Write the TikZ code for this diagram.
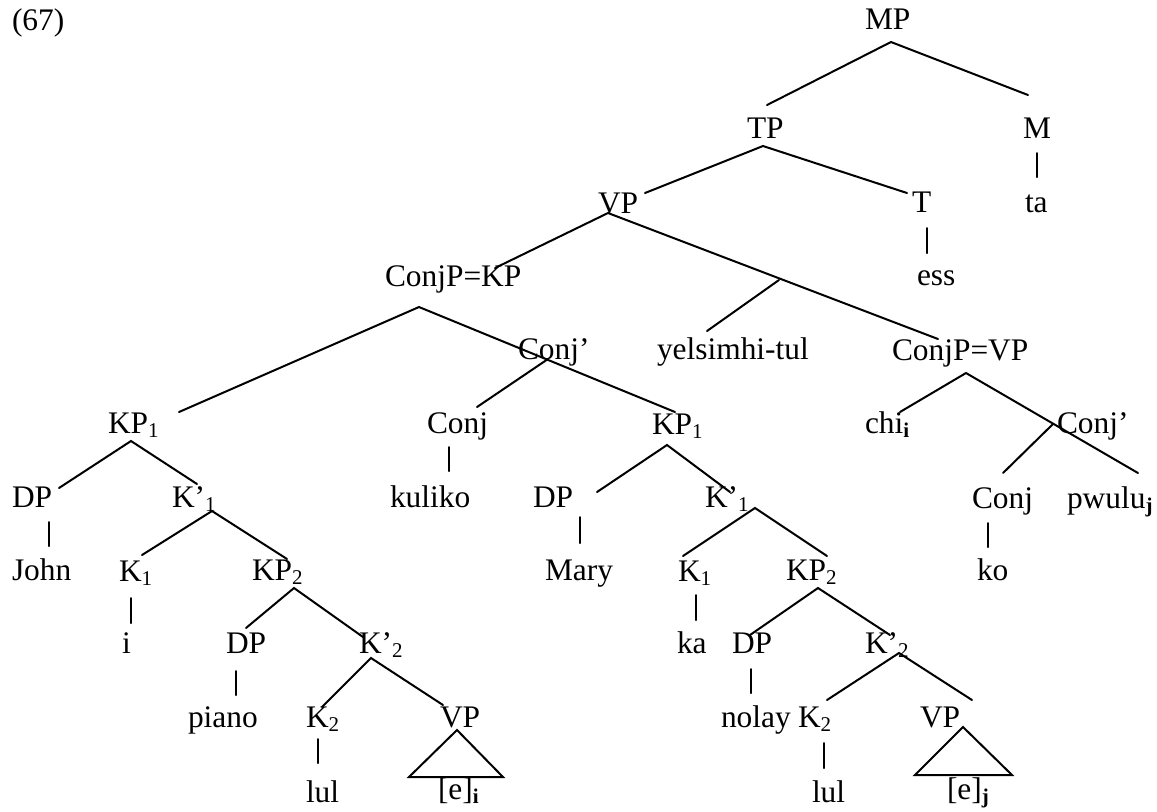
\documentclass[tikz,border=0pt]{standalone}
\usepackage{fontspec}
\setmainfont{Liberation Serif}
\newcommand\lsub[1]{\raisebox{-2pt}{\fontsize{10.5}{12}\selectfont #1}}
\newcommand\bsub[1]{\raisebox{-2pt}{\fontsize{10.5}{12}\selectfont\bfseries #1}}
\tikzset{
  lbl/.style={anchor=base west, inner sep=0pt, outer sep=0pt, font=\fontsize{15.7}{18}\selectfont},
  br/.style={line width=1pt, line cap=round, line join=miter}
}
\begin{document}
\begin{tikzpicture}[x=0.5pt,y=-0.5pt]
\useasboundingbox (0,0) rectangle (1157,811);
% ---------- labels ----------
\node[lbl] (n67) at (12,30) {(67)};
\node[lbl] (MP) at (865,29) {MP};
\node[lbl] (TP) at (747,138) {TP};
\node[lbl] (M) at (1023,138) {M};
\node[lbl] (ta) at (1025,212) {ta};
\node[lbl] (T) at (912,212) {T};
\node[lbl] (ess) at (917,285) {ess};
\node[lbl] (VP) at (598,213) {VP};
\node[lbl] (CKP) at (385,286) {ConjP=KP};
\node[lbl] (Cbar) at (518,359) {Conj’};
\node[lbl] (yel) at (657,359) {yelsimhi-tul};
\node[lbl] (CVP) at (892,360) {ConjP=VP};
\node[lbl] (chi) at (865,433) {chi\bsub{i}};
\node[lbl] (Cbarb) at (1057,433) {Conj’};
\node[lbl] (Conjb) at (972,508) {Conj};
\node[lbl] (pwulu) at (1067,508) {pwulu\bsub{j}};
\node[lbl] (ko) at (977,580) {ko};
\node[lbl] (KPa) at (108,433) {KP\lsub{1}};
\node[lbl] (Conja) at (427,433) {Conj};
\node[lbl] (kuliko) at (390,507) {kuliko};
\node[lbl] (KPb) at (652,434) {KP\lsub{1}};
\node[lbl] (DPa) at (12,507) {DP};
\node[lbl] (Kba) at (172,507) {K’\lsub{1}};
\node[lbl] (John) at (12,580) {John};
\node[lbl] (Ka) at (119,581) {K\lsub{1}};
\node[lbl] (KPta) at (252,580) {KP\lsub{2}};
\node[lbl] (ia) at (122,653) {i};
\node[lbl] (DPta) at (226,653) {DP};
\node[lbl] (Kbta) at (359,653) {K’\lsub{2}};
\node[lbl] (piano) at (188,727) {piano};
\node[lbl] (Kta) at (306,727) {K\lsub{2}};
\node[lbl] (VPa) at (440,727) {VP};
\node[lbl] (lula) at (306,802) {lul};
\node[lbl] (ea) at (438,799) {[e]\bsub{i}};
\node[lbl] (DPb) at (533,507) {DP};
\node[lbl] (Kbb) at (705,507) {K’\lsub{1}};
\node[lbl] (Mary) at (545,580) {Mary};
\node[lbl] (Kb) at (678,581) {K\lsub{1}};
\node[lbl] (KPtb) at (786,580) {KP\lsub{2}};
\node[lbl] (ka) at (677,653) {ka};
\node[lbl] (DPtb) at (732,653) {DP};
\node[lbl] (Kbtb) at (865,653) {K’\lsub{2}};
\node[lbl] (nolay) at (721,727) {nolay};
\node[lbl] (Ktb) at (798,727) {K\lsub{2}};
\node[lbl] (VPb) at (920,727) {VP};
\node[lbl] (lulb) at (812,802) {lul};
\node[lbl] (eb) at (947,799) {[e]\bsub{j}};
% ---------- branch points ----------
\coordinate (MPx) at (891,42);   \coordinate (MPl) at (767,105);  \coordinate (MPr) at (1028,95);
\coordinate (Mt) at (1037,153);  \coordinate (Mb) at (1037,177);
\coordinate (TPx) at (763,146);  \coordinate (TPl) at (645,193);  \coordinate (TPr) at (907,193);
\coordinate (Tt) at (927,228);   \coordinate (Tb) at (927,253);
\coordinate (VPx) at (608,213);  \coordinate (VPl) at (495,268);  \coordinate (VPr) at (938,339);
\coordinate (VPm) at (779,280);  \coordinate (yelt) at (707,331);
\coordinate (CKPx) at (419,307); \coordinate (CKPl) at (179,412); \coordinate (CKPr) at (675,412);
\coordinate (Cbx) at (548,359);  \coordinate (Cbl) at (477,407);
\coordinate (Cjat) at (449,447); \coordinate (Cjab) at (449,471);
\coordinate (CVPx) at (966,373); \coordinate (CVPl) at (900,412); \coordinate (CVPr) at (1138,473);
\coordinate (Cbbx) at (1053,424);\coordinate (Cbbl) at (1003,473);
\coordinate (Cjbt) at (988,523); \coordinate (Cjbb) at (988,547);
% left KP1
\coordinate (KPax) at (131,441); \coordinate (KPal) at (59,488);  \coordinate (KPar) at (197,484);
\coordinate (DPat) at (49,522);  \coordinate (DPab) at (49,546);
\coordinate (Kbax) at (212,511); \coordinate (Kbal) at (142,555); \coordinate (Kbar) at (287,559);
\coordinate (Kat) at (131,598);  \coordinate (Kab) at (131,623);
\coordinate (KPtax) at (294,588);\coordinate (KPtal) at (246,628);\coordinate (KPtar) at (363,637);
\coordinate (DPtat) at (236,671);\coordinate (DPtab) at (236,695);
\coordinate (Kbtax) at (371,658);\coordinate (Kbtal) at (322,707);\coordinate (Kbtar) at (443,705);
\coordinate (Ktat) at (318,739); \coordinate (Ktab) at (318,763);
\coordinate (Tra) at (457,730);  \coordinate (Tral) at (409,777); \coordinate (Trar) at (503,777);
% right KP1
\coordinate (KPbx) at (667,445); \coordinate (KPbl) at (597,492); \coordinate (KPbr) at (730,492);
\coordinate (DPbt) at (580,517); \coordinate (DPbb) at (580,543);
\coordinate (Kbbx) at (755,508); \coordinate (Kbbl) at (683,556); \coordinate (Kbbr) at (827,556);
\coordinate (Kbt) at (696,595);  \coordinate (Kbb2) at (696,620);
\coordinate (KPtbx) at (818,588);\coordinate (KPtbl) at (750,635);\coordinate (KPtbr) at (890,635);
\coordinate (DPtbt) at (751,669);\coordinate (DPtbb) at (751,693);
\coordinate (Kbtbx) at (899,653);\coordinate (Kbtbl) at (827,700);\coordinate (Kbtbr) at (972,700);
\coordinate (Ktbt) at (824,743); \coordinate (Ktbb) at (824,768);
\coordinate (Trb) at (963,727);  \coordinate (Trbl) at (915,775); \coordinate (Trbr) at (1012,775);
% ---------- branches ----------
\draw[br] (MPl) -- (MPx) -- (MPr);
\draw[br] (Mt) -- (Mb);
\draw[br] (TPl) -- (TPx) -- (TPr);
\draw[br] (Tt) -- (Tb);
\draw[br] (VPl) -- (VPx) -- (VPr);
\draw[br] (VPm) -- (yelt);
\draw[br] (CKPl) -- (CKPx) -- (CKPr);
\draw[br] (Cbx) -- (Cbl);
\draw[br] (Cjat) -- (Cjab);
\draw[br] (CVPl) -- (CVPx) -- (CVPr);
\draw[br] (Cbbx) -- (Cbbl);
\draw[br] (Cjbt) -- (Cjbb);
\draw[br] (KPal) -- (KPax) -- (KPar);
\draw[br] (DPat) -- (DPab);
\draw[br] (Kbal) -- (Kbax) -- (Kbar);
\draw[br] (Kat) -- (Kab);
\draw[br] (KPtal) -- (KPtax) -- (KPtar);
\draw[br] (DPtat) -- (DPtab);
\draw[br] (Kbtal) -- (Kbtax) -- (Kbtar);
\draw[br] (Ktat) -- (Ktab);
\draw[br] (Tra) -- (Tral) -- (Trar) -- cycle;
\draw[br] (KPbl) -- (KPbx) -- (KPbr);
\draw[br] (DPbt) -- (DPbb);
\draw[br] (Kbbl) -- (Kbbx) -- (Kbbr);
\draw[br] (Kbt) -- (Kbb2);
\draw[br] (KPtbl) -- (KPtbx) -- (KPtbr);
\draw[br] (DPtbt) -- (DPtbb);
\draw[br] (Kbtbl) -- (Kbtbx) -- (Kbtbr);
\draw[br] (Ktbt) -- (Ktbb);
\draw[br] (Trb) -- (Trbl) -- (Trbr) -- cycle;
\end{tikzpicture}
\end{document}
